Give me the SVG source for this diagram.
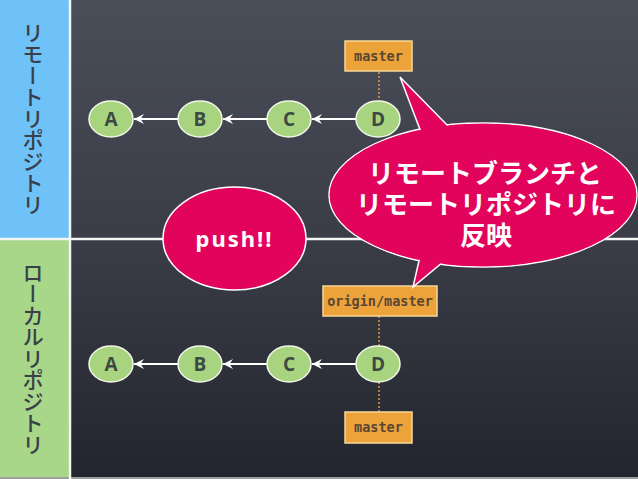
<svg xmlns="http://www.w3.org/2000/svg" width="638" height="479" viewBox="0 0 638 479">
<defs>
<linearGradient id="bg" x1="0" y1="0" x2="0" y2="1">
<stop offset="0" stop-color="#4a4e58"/>
<stop offset="0.5" stop-color="#3a3d47"/>
<stop offset="1" stop-color="#23252e"/>
</linearGradient>
<marker id="arr" viewBox="0 0 12 12" refX="11" refY="6" markerWidth="12" markerHeight="12" markerUnits="userSpaceOnUse" orient="auto">
<path d="M1,1 L11,6 L1,11 L4.5,6 Z" fill="#ffffff"/>
</marker>
<style>
.node ellipse{fill:#a8d47f;stroke:#f2f7ea;stroke-width:1.5}
.node text{font-family:"Open Sans","Noto Sans",sans-serif;font-weight:bold;font-size:19px;fill:#3c4a44;text-anchor:middle}
.box rect{fill:#eca33a;stroke:#f6d79a;stroke-width:1.5}
.box text{font-family:"DejaVu Sans Mono","Liberation Mono",monospace;font-weight:bold;font-size:13.5px;fill:#5a4634;text-anchor:middle}
.edge{stroke:#ffffff;stroke-width:2;fill:none}
.dot{stroke:#e09a3a;stroke-width:1.5;stroke-dasharray:2,2;fill:none}
.vlabel{font-family:"Noto Sans CJK JP",sans-serif;font-weight:500;font-size:21.5px;fill:#394049;writing-mode:vertical-rl;text-anchor:middle}
.pink{fill:#e2045c}
.callt{font-family:"Liberation Sans","Noto Sans CJK JP",sans-serif;font-weight:bold;font-size:26px;fill:#ffffff;text-anchor:middle}
</style>
</defs>
<rect x="0" y="0" width="638" height="479" fill="url(#bg)"/>
<rect x="0" y="0" width="69" height="238" fill="#6fc2f7"/>
<rect x="0" y="240" width="69" height="237" fill="#a9d78a"/>
<rect x="0" y="477" width="638" height="2" fill="#9c9ea2"/>
<line x1="70" y1="0" x2="70" y2="479" stroke="#f4f4f4" stroke-width="2.5"/>
<line x1="0" y1="239" x2="638" y2="239" stroke="#f4f4f4" stroke-width="2.5"/>
<text class="vlabel" x="33" y="118.5">リモートリポジトリ</text>
<text class="vlabel" x="33" y="358.5">ローカルリポジトリ</text>
<g id="connectors">
<line class="edge" x1="178" y1="119" x2="134" y2="119" marker-end="url(#arr)"/>
<line class="edge" x1="267" y1="119" x2="223" y2="119" marker-end="url(#arr)"/>
<line class="edge" x1="356" y1="119" x2="312" y2="119" marker-end="url(#arr)"/>
<line class="edge" x1="178" y1="364" x2="134" y2="364" marker-end="url(#arr)"/>
<line class="edge" x1="267" y1="364" x2="223" y2="364" marker-end="url(#arr)"/>
<line class="edge" x1="356" y1="364" x2="312" y2="364" marker-end="url(#arr)"/>
<line class="dot" x1="379" y1="72" x2="379" y2="101"/>
<line class="dot" x1="379" y1="316" x2="379" y2="346"/>
<line class="dot" x1="379" y1="382" x2="379" y2="412"/>
</g>
<g id="r-A" class="node"><ellipse cx="111" cy="119" rx="22" ry="18"/><text x="111" y="126">A</text></g>
<g id="r-B" class="node"><ellipse cx="200" cy="119" rx="22" ry="18"/><text x="200" y="126">B</text></g>
<g id="r-C" class="node"><ellipse cx="289" cy="119" rx="22" ry="18"/><text x="289" y="126">C</text></g>
<g id="r-D" class="node"><ellipse cx="378" cy="119" rx="22" ry="18"/><text x="378" y="126">D</text></g>
<g id="l-A" class="node"><ellipse cx="111" cy="364" rx="22" ry="18"/><text x="111" y="371">A</text></g>
<g id="l-B" class="node"><ellipse cx="200" cy="364" rx="22" ry="18"/><text x="200" y="371">B</text></g>
<g id="l-C" class="node"><ellipse cx="289" cy="364" rx="22" ry="18"/><text x="289" y="371">C</text></g>
<g id="l-D" class="node"><ellipse cx="378" cy="364" rx="22" ry="18"/><text x="378" y="371">D</text></g>
<g id="r-master" class="box"><rect x="345" y="41" width="67" height="30"/><text x="378.5" y="61">master</text></g>
<g id="origin-master" class="box"><rect x="323" y="286" width="114" height="30"/><text x="380" y="306">origin/master</text></g>
<g id="l-master" class="box"><rect x="345" y="412" width="67" height="31"/><text x="378.5" y="432">master</text></g>
<g id="push">
<ellipse cx="234.5" cy="238.5" rx="71.5" ry="51.5" class="pink" stroke="#ffffff" stroke-width="1.5"/>
<text x="234.5" y="247" font-family="'Noto Sans','Open Sans',sans-serif" font-weight="bold" font-size="22" fill="#ffffff" text-anchor="middle" letter-spacing="2">push!!</text>
</g>
<g id="callout">
<ellipse cx="483" cy="195" rx="154" ry="72" class="pink" stroke="#ffffff" stroke-width="1.5"/>
<polygon points="424,140 400,77 454,132" class="pink" stroke="#ffffff" stroke-width="1.5"/>
<polygon points="421,252 413,287 455,252" class="pink" stroke="#ffffff" stroke-width="1.5"/>
<ellipse cx="483" cy="195" rx="153.3" ry="71.3" class="pink"/>
<text class="callt"><tspan x="485" y="183">リモートブランチと</tspan><tspan x="486" y="214">リモートリポジトリに</tspan><tspan x="486" y="245">反映</tspan></text>
</g>
</svg>
